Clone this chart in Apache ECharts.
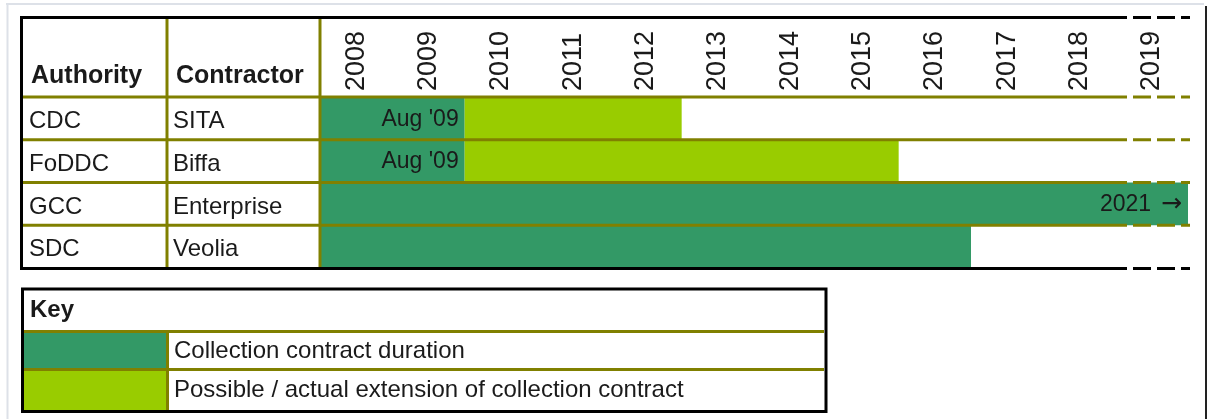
<!DOCTYPE html>
<html>
<head>
<meta charset="utf-8">
<script src="https://cdn.jsdelivr.net/npm/echarts@6/dist/echarts.min.js"></script>
<style>
  html, body { margin: 0; padding: 0; background: #fff; }
  #chart { width: 1209px; height: 419px; }
</style>
</head>
<body>
<div id="chart"></div>
<script>
// table data
const headers = ['Authority', 'Contractor']
const authorities = ['CDC', 'FoDDC', 'GCC', 'SDC']
const contractors = ['SITA', 'Biffa', 'Enterprise', 'Veolia']
const contractStart = [2008, 2008, 2008, 2008]
const contractEnd = [2010, 2010, 2020, 2017]
const extensionEnd = [2013, 2016, null, null]
const endNotes = ["Aug '09", "Aug '09", '2021 \u2192', '']
const years = ['2008', '2009', '2010', '2011', '2012', '2013', '2014', '2015', '2016', '2017', '2018', '2019']
const keyTitle = 'Key'
const keyItems = ['Collection contract duration', 'Possible / actual extension of collection contract']

const FONT = '"Liberation Sans", Arial, sans-serif'
const DARK = '#339966'
const LIGHT = '#99cc00'
const OLIVE = '#808000'
const INK = '#1a1a1a'
const keyColors = [DARK, LIGHT]

// layout
const G = { left: 320, top: 97, width: 868, height: 171 }
const rowH = G.height / authorities.length
const SOLID_END = 1127, DASH_START = 1133, DASH_END = 1190

function hline(y, color, x0) {
  return [
    { type: 'line', z: 100, shape: { x1: x0, y1: y, x2: SOLID_END, y2: y }, style: { stroke: color, lineWidth: 3 } },
    { type: 'line', z: 100, shape: { x1: DASH_START, y1: y, x2: DASH_END, y2: y }, style: { stroke: color, lineWidth: 3, lineDash: [18, 6] } }
  ]
}

let elements = []
// page frame
elements.push({ type: 'line', z: 1, shape: { x1: 6, y1: 4, x2: 1204, y2: 4 }, style: { stroke: '#dde1e8', lineWidth: 2 } })
elements.push({ type: 'line', z: 1, shape: { x1: 7.5, y1: 3, x2: 7.5, y2: 419 }, style: { stroke: '#dde1e8', lineWidth: 2 } })
elements.push({ type: 'line', z: 1, shape: { x1: 1206, y1: 6, x2: 1206, y2: 419 }, style: { stroke: '#222', lineWidth: 2 } })

// top table frame
elements.push(...hline(17.5, '#000', 20))
for (let i = 0; i < authorities.length; i++) {
  elements.push(...hline(G.top + i * rowH, OLIVE, 23))
}
elements.push(...hline(G.top + G.height + 0.5, '#000', 20))
elements.push({ type: 'line', z: 101, shape: { x1: 21.5, y1: 16, x2: 21.5, y2: 270 }, style: { stroke: '#000', lineWidth: 3 } })
elements.push({ type: 'line', z: 99, shape: { x1: 167, y1: 19, x2: 167, y2: 267 }, style: { stroke: OLIVE, lineWidth: 3 } })
elements.push({ type: 'line', z: 99, shape: { x1: G.left, y1: 19, x2: G.left, y2: 267 }, style: { stroke: OLIVE, lineWidth: 3 } })
elements.push({ type: 'text', z: 100, style: { text: headers[0], x: 31, y: 76, verticalAlign: 'middle', font: 'bold 25px ' + FONT, fill: INK } })
elements.push({ type: 'text', z: 100, style: { text: headers[1], x: 176, y: 76, verticalAlign: 'middle', font: 'bold 25px ' + FONT, fill: INK } })

// key box
const keyLines = [331.5, 369.5, 410]
keyColors.forEach((c, i) => {
  let y0 = keyLines[i], y1 = keyLines[i + 1]
  elements.push({ type: 'rect', z: 50, shape: { x: 23, y: y0, width: 144, height: y1 - y0 }, style: { fill: c } })
  elements.push({ type: 'line', z: 100, shape: { x1: 24, y1: y0, x2: 824, y2: y0 }, style: { stroke: OLIVE, lineWidth: 3 } })
  elements.push({ type: 'text', z: 100, style: { text: keyItems[i], x: 174, y: (y0 + y1) / 2 + 1, verticalAlign: 'middle', font: '24px ' + FONT, fill: INK } })
})
elements.push({ type: 'line', z: 100, shape: { x1: 167.5, y1: keyLines[0], x2: 167.5, y2: 410 }, style: { stroke: OLIVE, lineWidth: 3 } })
elements.push({ type: 'rect', z: 101, shape: { x: 22.5, y: 289, width: 803.5, height: 122.5 }, style: { fill: null, stroke: '#000', lineWidth: 3 } })
elements.push({ type: 'text', z: 100, style: { text: keyTitle, x: 30, y: 310, verticalAlign: 'middle', font: 'bold 24px ' + FONT, fill: INK } })

let myChart = echarts.init(document.getElementById('chart'))
let option = {
  backgroundColor: '#ffffff',
  animation: false,
  textStyle: { fontFamily: FONT },
  grid: Object.assign({ containLabel: false, outerBoundsMode: 'none' }, G),
  xAxis: [
    { type: 'value', min: 2008, max: 2020, show: false },
    {
      type: 'category',
      position: 'top',
      data: years,
      axisLine: { show: false },
      axisTick: { show: false },
      splitLine: { show: false },
      axisLabel: { interval: 0, rotate: -90, margin: 6, fontSize: 27, color: INK, fontFamily: FONT }
    }
  ],
  yAxis: {
    type: 'category',
    inverse: true,
    data: authorities,
    axisLine: { show: false },
    axisTick: { show: false },
    splitLine: { show: false },
    axisLabel: {
      align: 'left',
      margin: G.left - 29,
      padding: [6, 0, 0, 0],
      formatter: (v, i) => '{a|' + v + '}{c|' + contractors[i] + '}',
      rich: {
        a: { width: 144, fontSize: 24, color: INK, fontFamily: FONT },
        c: { fontSize: 24, color: INK, fontFamily: FONT }
      }
    }
  },
  series: [
    {
      type: 'custom',
      xAxisIndex: 0,
      yAxisIndex: 0,
      data: authorities.map((a, i) => [i, contractStart[i], contractEnd[i]]),
      encode: { x: [1, 2], y: 0 },
      renderItem: (params, api) => {
        let idx = params.dataIndex
        let row = api.value(0)
        let p0 = api.coord([api.value(1), row])
        let p1 = api.coord([api.value(2), row])
        let h = api.size([0, 1])[1]
        let top = p0[1] - h / 2
        let children = [
          { type: 'rect', shape: { x: p0[0], y: top, width: p1[0] - p0[0], height: h }, style: { fill: DARK } }
        ]
        if (extensionEnd[idx] != null) {
          let p2 = api.coord([extensionEnd[idx], row])
          children.push({ type: 'rect', shape: { x: p1[0], y: top, width: p2[0] - p1[0], height: h }, style: { fill: LIGHT } })
        }
        if (endNotes[idx]) {
          // the arrow glyph is tiny in Liberation Sans, take it from DejaVu
          children.push({
            type: 'text',
            style: {
              text: endNotes[idx].replace(' \u2192', '{sp| }{arr|\u2192}'),
              x: p1[0] - 6, y: p0[1] + 1, align: 'right', verticalAlign: 'middle',
              fontSize: 23, fontFamily: FONT, fill: INK,
              rich: {
                sp: { fontSize: 23, fontFamily: FONT, width: 10 },
                arr: { fontSize: 25, fontFamily: '"DejaVu Sans"', fill: INK }
              }
            }
          })
        }
        return { type: 'group', children: children }
      }
    }
  ],
  graphic: { elements: elements }
}
myChart.setOption(option)

window.addEventListener('resize', () => {
  myChart.resize()
})
</script>
</body>
</html>
